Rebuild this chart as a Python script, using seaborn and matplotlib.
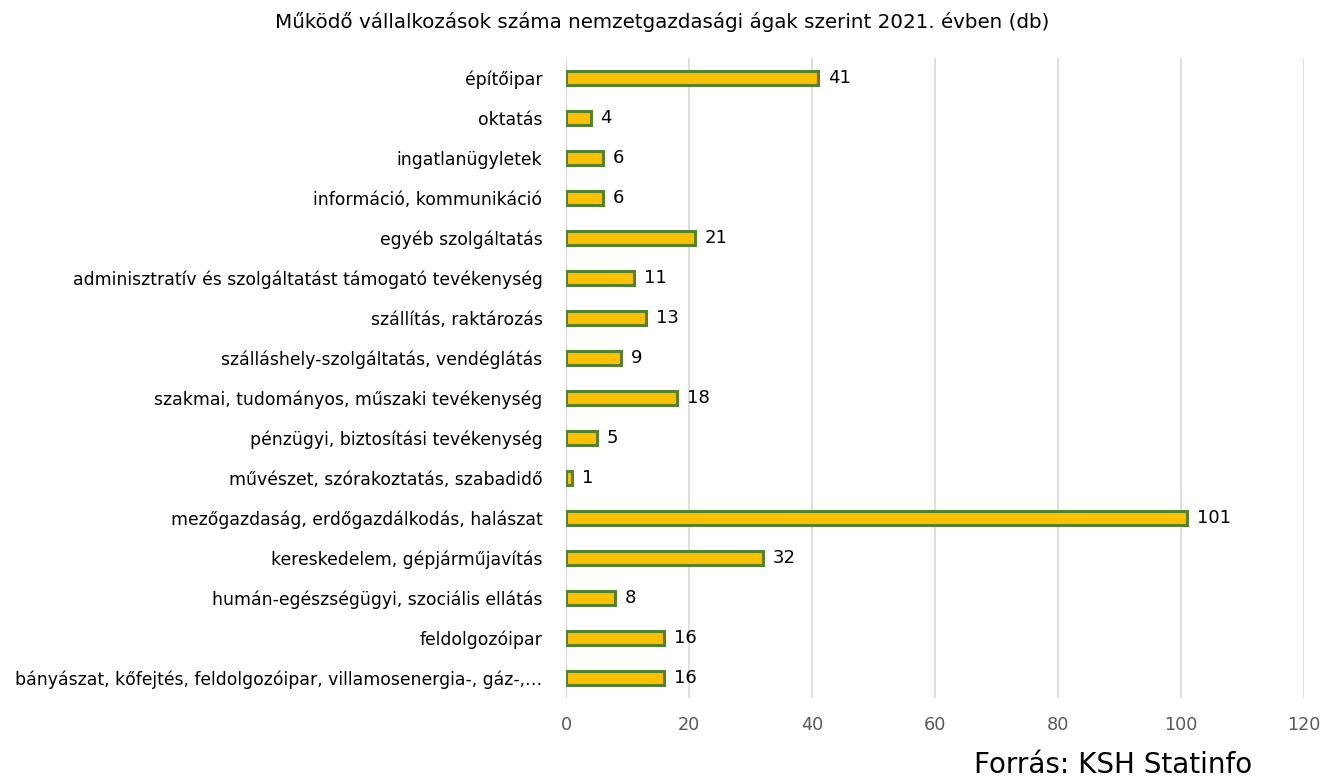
import pandas as pd
import matplotlib
matplotlib.use("Agg")
import matplotlib.pyplot as plt
import seaborn as sns

# Data (top to bottom as shown)
categories = [
    "építőipar",
    "oktatás",
    "ingatlanügyletek",
    "információ, kommunikáció",
    "egyéb szolgáltatás",
    "adminisztratív és szolgáltatást támogató tevékenység",
    "szállítás, raktározás",
    "szálláshely-szolgáltatás, vendéglátás",
    "szakmai, tudományos, műszaki tevékenység",
    "pénzügyi, biztosítási tevékenység",
    "művészet, szórakoztatás, szabadidő",
    "mezőgazdaság, erdőgazdálkodás, halászat",
    "kereskedelem, gépjárműjavítás",
    "humán-egészségügyi, szociális ellátás",
    "feldolgozóipar",
    "bányászat, kőfejtés, feldolgozóipar, villamosenergia-, gáz-,…",
]
counts = [41, 4, 6, 6, 21, 11, 13, 9, 18, 5, 1, 101, 32, 8, 16, 16]
x_ticks = [0, 20, 40, 60, 80, 100, 120]

df = pd.DataFrame({"Ág": categories, "Darab": counts})

sns.set_style("white")
plt.rcParams["font.family"] = ["DejaVu Sans"]

fig = plt.figure(figsize=(13.24, 7.79), dpi=100)
ax = fig.add_axes([0.4275, 0.104, 0.5575, 0.8215])

sns.barplot(data=df, x="Darab", y="Ág", orient="h", color="#FFC000",
            edgecolor="#548235", linewidth=2.2, width=0.36, saturation=1, ax=ax)

for i, v in enumerate(counts):
    ax.text(v + 1.6, i, str(v), va="center", ha="left", fontsize=13, color="#000000")

ax.set_xlim(0, 120)
ax.set_xticks(x_ticks)
ax.set_xticklabels([str(t) for t in x_ticks], fontsize=12.7, color="#595959")
ax.tick_params(axis="y", labelsize=12.4, labelcolor="#000000", length=0, pad=17)
ax.tick_params(axis="x", length=0, pad=13)
ax.set_xlabel("")
ax.set_ylabel("")
ax.xaxis.grid(True, color="#D9D9D9", linewidth=1.2)
ax.set_axisbelow(True)
for s in ax.spines.values():
    s.set_visible(False)
ax.axvline(0, color="#D9D9D9", linewidth=1.2, zorder=0)

fig.text(0.5, 0.972, "Működő vállalkozások száma nemzetgazdasági ágak szerint 2021. évben (db)",
         ha="center", va="center", fontsize=14.3, color="#000000")
fig.text(0.946, 0.018, "Forrás: KSH Statinfo", ha="right", va="center", fontsize=20,
         color="#000000")

fig.savefig("out.png", dpi=100)
